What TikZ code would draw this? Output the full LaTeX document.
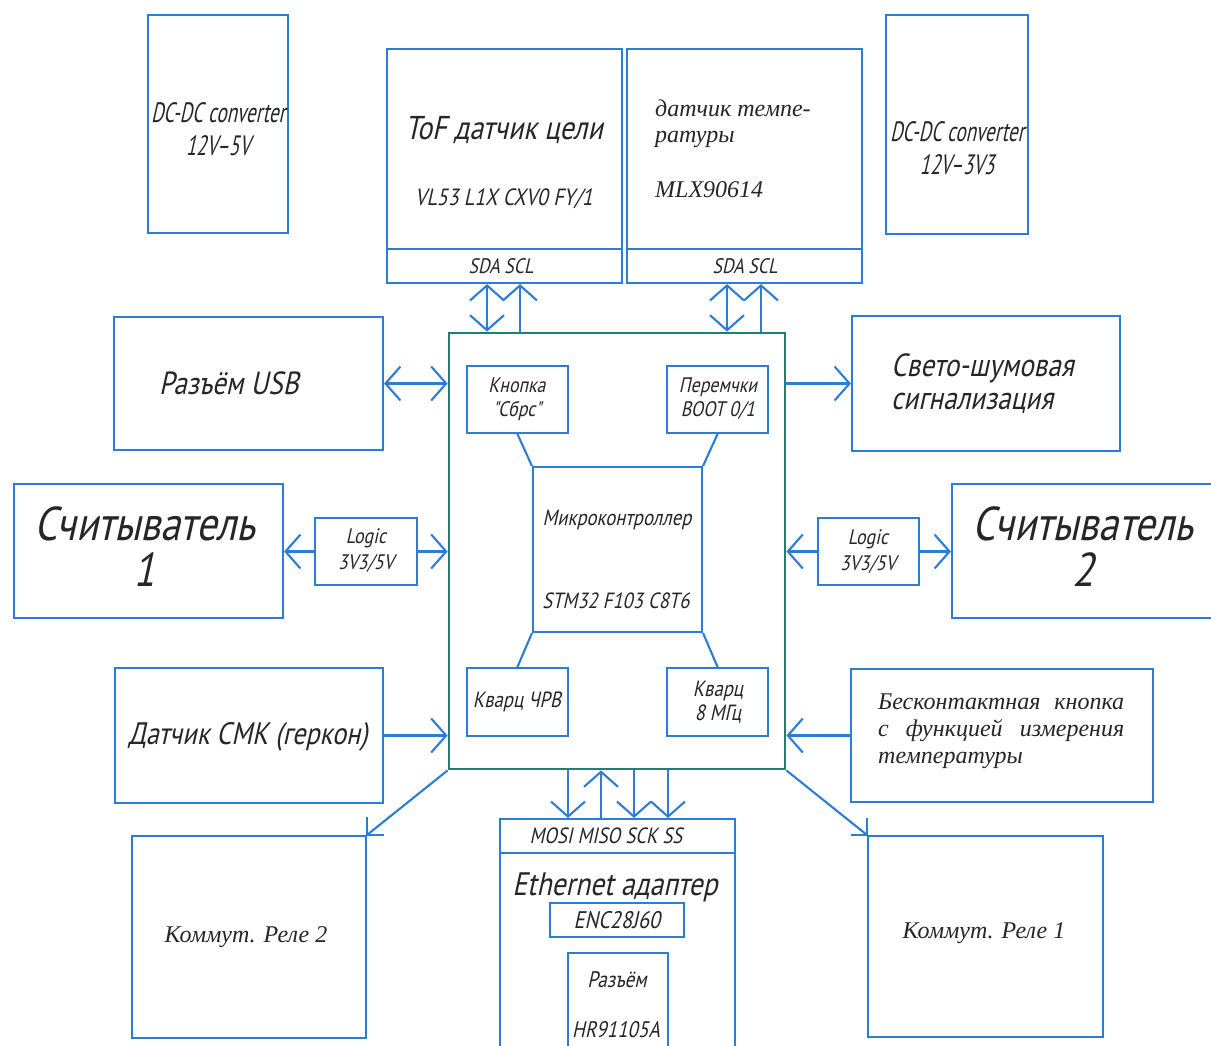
\documentclass[tikz,border=0pt]{standalone}
\usepackage{fontspec}
\setmainfont{Liberation Serif}
\newfontfamily\gost[FakeSlant=0.22,FakeStretch=0.68]{PT Sans}
\newfontfamily\gostw[FakeSlant=0.22,FakeStretch=0.85]{PT Sans}
\newfontfamily\tms{Liberation Serif}
\usetikzlibrary{arrows.meta,fit}
\definecolor{bl}{RGB}{45,125,215}
\definecolor{tl}{RGB}{25,130,115}
\begin{document}
\begin{tikzpicture}[x=1bp,y=-1bp,
  >={Straight Barb[length=15bp,width=34bp]},
  blk/.style={draw=bl, line width=2.1bp, inner sep=0pt},
  mcu/.style={draw=tl, line width=2.8bp, inner sep=0pt},
  wire/.style={draw=bl, line width=2.1bp},
  gn/.style 2 args={font={\gost\fontsize{#1bp}{#2bp}\selectfont}, inner sep=0pt, align=center, text=black!85},
  g/.style 2 args={font={\gostw\fontsize{#1bp}{#2bp}\selectfont}, inner sep=0pt, align=center, text=black!85},
  t/.style 2 args={font={\tms\itshape\fontsize{#1bp}{#2bp}\selectfont}, inner sep=0pt, align=left, text=black!85}]
\useasboundingbox[fill=white] (0,0) rectangle (1211,1046);

% top row
\node[blk, fit={(148,15) (288,233)}] (dc5) {};
\node[gn={28}{33}] (dc5t) at (218,129) {DC-DC converter\\12V–5V};
\node[blk, fit={(886,15) (1028,234)}] (dc33) {};
\node[gn={28}{33}] (dc33t) at (957,148) {DC-DC converter\\12V–3V3};

\node[blk, fit={(387,49) (622,249)}] (tof) {};
\node[blk, fit={(387,249) (622,283)}] (tofp) {};
\node[g={33}{36}] (toft) at (504,130) {ToF датчик цели};
\node[g={23.5}{28}] (tofm) at (504,199) {VL53 L1X CXV0 FY/1};
\node[g={21}{22}] (tofpt) at (501,266) {SDA SCL};

\node[blk, fit={(627,49) (862,249)}] (tmp) {};
\node[blk, fit={(627,249) (862,283)}] (tmpp) {};
\node[t={24}{28}, anchor=base west] (tmpt1) at (655,116) {датчик темпе-};
\node[t={24}{28}, anchor=base west] (tmpt2) at (655,142) {ратуры};
\node[t={24}{28}, anchor=base west] (tmpt3) at (655,197) {MLX90614};
\node[g={21}{22}] (tmppt) at (745,266) {SDA SCL};

% MCU
\node[mcu, fit={(449,333) (785,769)}] (mcu) {};
\node[blk, fit={(467,366) (568,433)}] (kn) {};
\node[g={21}{24}] (knt) at (517,399) {Кнопка\\"Сбрс"};
\node[blk, fit={(667,366) (768,433)}] (pr) {};
\node[g={21}{24}] (prt) at (718,399) {Перемчки\\BOOT 0/1};
\node[blk, fit={(533,467) (702,632)}] (mc) {};
\node[g={22}{26}] (mct1) at (617,520) {Микроконтроллер};
\node[g={22}{26}] (mct2) at (616,601) {STM32 F103 C8T6};
\node[blk, fit={(467,668) (568,736)}] (kv1) {};
\node[g={22}{24}] (kv1t) at (517,702) {Кварц ЧРВ};
\node[blk, fit={(667,668) (768,736)}] (kv2) {};
\node[g={22}{24}] (kv2t) at (718,702) {Кварц\\8 МГц};
\coordinate (knb) at (517,433);
\coordinate (prb) at (718,433);
\coordinate (kv1n) at (517,668);
\coordinate (kv2n) at (718,668);
\draw[wire] (knb) -- (mc.north west);
\draw[wire] (prb) -- (mc.north east);
\draw[wire] (mc.south west) -- (kv1n);
\draw[wire] (mc.south east) -- (kv2n);

% left
\node[blk, fit={(114,317) (383,450)}] (usb) {};
\node[g={32}{36}] (usbt) at (229,383) {Разъём USB};
\node[blk, fit={(14,484) (283,618)}] (rd1) {};
\node[g={47.5}{46}] (rd1t) at (145,547) {Считыватель\\1};
\node[blk, fit={(315,518) (417,585)}] (lg1) {};
\node[g={21}{26}] (lg1t) at (366,551) {Logic\\3V3/5V};
\node[blk, fit={(115,668) (383,803)}] (smk) {};
\node[g={31}{36}] (smkt) at (248,737) {Датчик СМК (геркон)};
\node[blk, fit={(132,836) (366,1038)}] (rl2) {};
\node[t={24}{28}] (rl2t) at (246,937) {Коммут. Реле 2};

% right
\node[blk, fit={(852,316) (1120,451)}] (sv) {};
\node[g={32}{33}, anchor=west, align=left] (svt) at (891,384) {Свето-шумовая\\сигнализация};
\node[blk, fit={(952,484) (1240,618)}] (rd2) {};
\node[g={47.5}{46}] (rd2t) at (1083,547) {Считыватель\\2};
\node[blk, fit={(818,518) (919,585)}] (lg2) {};
\node[g={21}{26}] (lg2t) at (868,552) {Logic\\3V3/5V};
\node[blk, fit={(851,669) (1153,802)}] (bk) {};
\node[t={24}{27}, anchor=base west] (bkt1) at (878,709) {\makebox[246bp][s]{Бесконтактная кнопка}};
\node[t={24}{27}, anchor=base west] (bkt2) at (878,736) {\makebox[246bp][s]{с функцией измерения}};
\node[t={24}{27}, anchor=base west] (bkt3) at (878,763) {температуры};
\node[blk, fit={(868,836) (1103,1037)}] (rl1) {};
\node[t={24}{28}] (rl1t) at (984,933) {Коммут. Реле 1};

% bottom
\node[blk, fit={(500,819) (735,853)}] (ethp) {};
\node[blk, fit={(500,853) (735,1070)}] (eth) {};
\node[g={22}{24}] (ethpt) at (606,836) {MOSI MISO SCK SS};
\node[g={32.5}{36}] (etht) at (615,887) {Ethernet адаптер};
\node[blk, fit={(550,903) (684,937)}] (enc) {};
\node[g={24}{24}] (enct) at (617,920) {ENC28J60};
\node[blk, fit={(568,953) (668,1070)}] (rz) {};
\node[g={22.5}{24}] (rzt1) at (617,980) {Разъём};
\node[g={22.5}{24}] (rzt2) at (616,1030) {HR91105A};

% connectors: top pins
\draw[wire,<->] (tofp.south -| 487,0) -- (mcu.north -| 487,0);
\draw[wire,->] (mcu.north -| 520,0) -- (tofp.south -| 520,0);
\draw[wire,<->] (tmpp.south -| 727,0) -- (mcu.north -| 727,0);
\draw[wire,->] (mcu.north -| 761,0) -- (tmpp.south -| 761,0);

% left side
\draw[wire,<->] (usb.east) -- (mcu.west |- usb.east);
\draw[wire,->] (lg1.west) -- (rd1.east |- lg1.west);
\draw[wire,->] (lg1.east) -- (mcu.west |- lg1.east);
\draw[wire,->] (smk.east) -- (mcu.west |- smk.east);

% right side
\draw[wire,->] (mcu.east |- sv.west) -- (sv.west);
\draw[wire,->] (lg2.west) -- (mcu.east |- lg2.west);
\draw[wire,->] (lg2.east) -- (rd2.west |- lg2.east);
\draw[wire,->] (bk.west) -- (mcu.east |- bk.west);

% bottom pins
\draw[wire,->] (mcu.south -| 568,0) -- (ethp.north -| 568,0);
\draw[wire,->] (ethp.north -| 601,0) -- (mcu.south -| 601,0);
\draw[wire,->] (mcu.south -| 634,0) -- (ethp.north -| 634,0);
\draw[wire,->] (mcu.south -| 668,0) -- (ethp.north -| 668,0);

% relays
\draw[wire] (mcu.south west) -- (rl2.north east);
\draw[wire] (rl2.north east) -- ++(17,0);
\draw[wire] (rl2.north east) -- ++(0,-18);
\draw[wire] (mcu.south east) -- (rl1.north west);
\draw[wire] (rl1.north west) -- ++(-16,0);
\draw[wire] (rl1.north west) -- ++(0,-17);
\end{tikzpicture}
\end{document}
